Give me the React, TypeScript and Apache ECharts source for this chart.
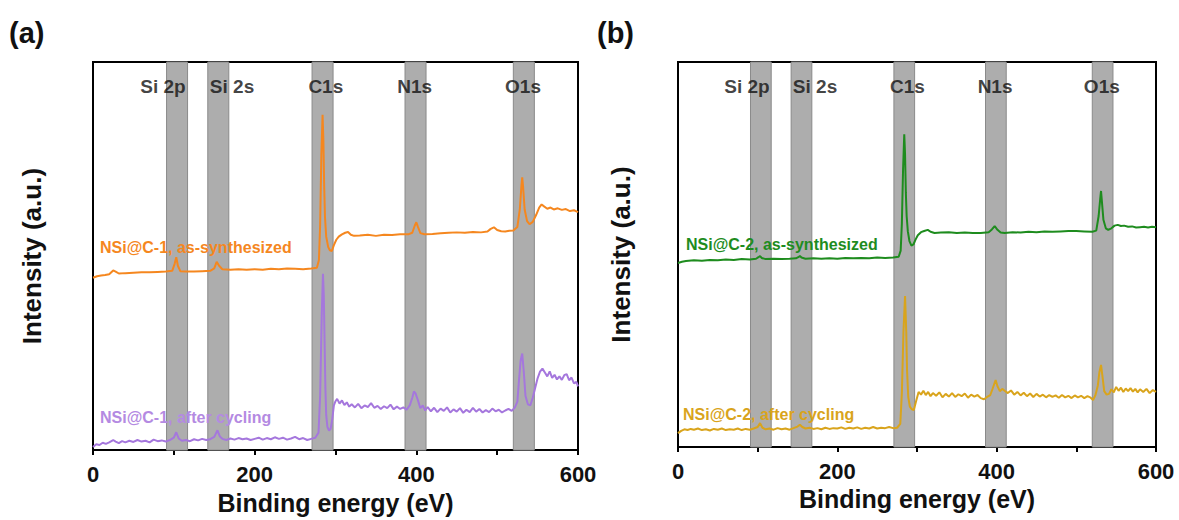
import React, { useEffect, useRef } from "react";
import * as echarts from "echarts";

// Band regions (eV) and labels
const bandRanges: [number, number][] = [
  [91, 117],
  [142, 168],
  [271, 297],
  [386, 412],
  [520, 546],
];
const bandNames = ["Si 2p", "Si 2s", "C1s", "N1s", "O1s"];
const bandLabelX = [86.6, 172, 288, 398, 532];
const bandLabelY = 93.6;

const xTicks = [0, 200, 400, 600];

// Panel (a) orange: NSi@C-1, as-synthesized
const c1Synth: [number, number][] = [
  [0, 44.4], [5, 44.8], [10, 45.0], [15, 45.1], [20, 45.3], [25, 46.3], [28, 46.0], [32, 45.5], [40, 45.6], [50, 45.7],
  [60, 45.8], [70, 45.8], [80, 45.9], [90, 46.0], [98, 46.2], [101, 48.0], [103, 49.7], [105, 47.5], [108, 46.1], [115, 46.0],
  [125, 46.0], [135, 46.1], [145, 46.2], [150, 46.8], [153, 48.5], [156, 47.5], [160, 46.6], [170, 46.5], [180, 46.6], [190, 46.5],
  [200, 46.6], [210, 46.5], [220, 46.7], [230, 46.6], [240, 46.8], [250, 46.7], [260, 46.6], [270, 46.8], [277, 47.0], [279.5, 49],
  [281, 58], [282.5, 76], [284, 86.4], [285, 80], [286, 68], [287, 60], [288.5, 55], [291, 52.3], [293, 51.5], [295.5, 51.3],
  [298, 52.8], [301, 54.2], [304, 55.0], [308, 55.6], [312, 56.0], [315.5, 56.2], [319, 55.5], [323, 55.2], [330, 55.3], [340, 55.5],
  [350, 55.2], [360, 55.5], [370, 55.4], [380, 55.6], [390, 55.6], [395, 56.0], [398, 57.8], [400, 58.7], [402, 57.5], [405, 55.9],
  [410, 55.6], [420, 55.7], [430, 55.9], [440, 56.0], [450, 56.1], [460, 56.0], [470, 56.2], [480, 56.1], [488, 56.3], [492, 57.0],
  [496, 57.4], [500, 56.7], [505, 56.4], [510, 56.3], [515, 56.5], [520, 56.6], [525, 57.5], [528, 62], [530, 68], [531, 70.3],
  [532, 68], [534, 62], [537, 59], [540, 58.2], [544, 58.8], [548, 60.5], [552, 62.5], [555, 63.3], [558, 62.8], [562, 62.2],
  [566, 62.5], [570, 62.0], [575, 62.3], [580, 61.9], [585, 62.1], [590, 61.6], [595, 61.8], [600, 61.3],
];

// Panel (a) purple: NSi@C-1, after cycling
const c1Cycled: [number, number][] = [
  [0, 0.8], [4, 1.5], [8, 1.3], [12, 1.9], [16, 1.6], [20, 2.0], [25, 2.6], [28, 2.2], [32, 1.8], [36, 2.3],
  [40, 2.0], [45, 2.4], [50, 2.1], [55, 2.6], [60, 2.2], [65, 2.4], [70, 2.0], [75, 2.7], [80, 2.3], [85, 2.5],
  [90, 2.2], [95, 2.6], [100, 3.2], [103, 4.6], [106, 3.0], [110, 2.4], [115, 2.6], [120, 2.3], [125, 2.8], [130, 2.5],
  [135, 2.9], [140, 2.6], [145, 2.8], [150, 3.4], [154, 5.1], [157, 3.5], [160, 2.9], [165, 2.6], [170, 3.0], [175, 2.7],
  [180, 3.1], [185, 2.8], [190, 3.0], [195, 2.6], [200, 2.9], [205, 3.2], [210, 2.7], [215, 3.1], [220, 2.8], [225, 3.3],
  [230, 2.9], [235, 3.2], [240, 2.7], [245, 3.0], [250, 3.4], [255, 2.8], [260, 3.1], [265, 2.6], [270, 2.9], [275, 3.2],
  [279, 4.5], [281, 14], [283, 35], [284.5, 45.4], [285.5, 40], [286.5, 28], [287.5, 16], [288.5, 9], [290, 6], [292, 5.0],
  [294, 5.5], [296, 8], [298, 11.5], [300, 12.6], [302, 13.2], [305, 12.0], [308, 12.8], [311, 11.6], [314, 12.3], [317, 11.2],
  [320, 11.8], [324, 11.0], [328, 11.9], [332, 10.8], [336, 11.5], [340, 11.1], [344, 12.1], [348, 10.9], [352, 11.4], [356, 10.6],
  [360, 11.3], [364, 10.8], [368, 11.7], [372, 10.5], [376, 11.2], [380, 10.6], [384, 11.0], [388, 10.4], [392, 11.6], [395, 13.5],
  [397, 15.1], [399, 14.6], [402, 12.8], [405, 10.8], [408, 11.5], [411, 10.2], [414, 11.1], [418, 10.0], [422, 10.9], [426, 9.8],
  [430, 10.7], [434, 10.1], [438, 11.0], [442, 9.7], [446, 10.5], [450, 9.9], [454, 10.8], [458, 9.6], [462, 10.4], [466, 9.8],
  [470, 10.9], [474, 9.9], [478, 10.6], [482, 9.7], [486, 10.3], [490, 9.8], [494, 10.7], [498, 10.0], [502, 10.4], [506, 9.7],
  [510, 10.2], [514, 10.6], [518, 10.1], [522, 11.0], [525, 12.5], [527, 18], [529, 23], [531, 24.9], [533, 20], [535, 14],
  [538, 11.8], [541, 11.5], [544, 13.5], [547, 16], [550, 18.5], [553, 20.2], [556, 21.0], [559, 20.0], [562, 19.0], [565, 20.3],
  [568, 18.6], [571, 19.4], [574, 18.2], [577, 19.0], [580, 18.1], [583, 19.3], [586, 19.6], [589, 18.0], [592, 18.7], [595, 17.2],
  [598, 17.6], [600, 16.4],
];

// Panel (b) green: NSi@C-2, as-synthesized
const c2Synth: [number, number][] = [
  [0, 47.8], [5, 48.1], [10, 48.3], [20, 48.5], [30, 48.4], [40, 48.6], [50, 48.5], [60, 48.7], [70, 48.6], [80, 48.8],
  [90, 48.7], [98, 48.9], [101, 49.3], [103, 49.6], [105, 49.1], [110, 48.8], [120, 48.9], [130, 48.8], [140, 48.9], [148, 49.0],
  [151, 49.3], [153, 49.6], [155, 49.2], [160, 48.9], [170, 49.0], [180, 48.9], [190, 49.0], [200, 48.9], [210, 49.1], [220, 49.0],
  [230, 49.1], [240, 49.0], [250, 49.2], [260, 49.1], [270, 49.2], [277, 49.4], [279.5, 51], [281, 58], [282.5, 72], [284, 81.2],
  [285, 76], [286, 66], [287, 60], [288.5, 56], [290.5, 53.5], [293, 52.3], [295.5, 52.6], [298, 53.8], [301, 55.0], [305, 55.8],
  [309, 56.1], [313.5, 56.4], [317, 55.9], [322, 55.6], [330, 55.7], [340, 55.8], [350, 55.6], [360, 55.7], [370, 55.6], [380, 55.6],
  [390, 55.8], [394, 56.5], [397.5, 57.4], [401, 56.4], [405, 55.7], [410, 55.6], [420, 55.8], [430, 55.7], [440, 55.9], [450, 55.8],
  [460, 56.0], [470, 55.9], [480, 56.0], [490, 56.1], [500, 56.1], [510, 56.0], [520, 55.9], [525, 56.2], [528, 60], [530, 64.5],
  [531, 66.5], [532, 64], [534, 59], [537, 56.8], [540, 56.4], [544, 56.8], [548, 57.5], [552, 57.7], [556, 57.4], [560, 57.5],
  [565, 57.2], [570, 57.3], [575, 57.0], [580, 57.1], [585, 57.2], [590, 57.0], [595, 57.2], [600, 57.1],
];

// Panel (b) gold: NSi@C-2, after cycling
const c2Cycled: [number, number][] = [
  [0, 3.6], [4, 4.2], [8, 4.6], [12, 4.4], [16, 4.7], [20, 4.5], [25, 4.8], [30, 4.4], [35, 4.6], [40, 4.3],
  [45, 4.7], [50, 4.5], [55, 4.8], [60, 4.4], [65, 4.6], [70, 4.5], [75, 4.8], [80, 4.4], [85, 4.7], [90, 4.5],
  [95, 4.8], [100, 5.2], [103, 6.2], [106, 5.0], [110, 4.6], [115, 4.8], [120, 4.5], [125, 4.9], [130, 4.6], [135, 4.8],
  [140, 4.5], [145, 4.9], [150, 5.3], [153, 5.8], [156, 5.2], [160, 4.8], [165, 5.0], [170, 4.7], [175, 4.9], [180, 4.6],
  [185, 5.0], [190, 4.7], [195, 4.9], [200, 4.8], [205, 5.1], [210, 4.7], [215, 5.0], [220, 4.8], [225, 5.1], [230, 4.7],
  [235, 5.0], [240, 4.8], [245, 5.2], [250, 4.8], [255, 5.0], [260, 4.9], [265, 5.2], [270, 4.9], [275, 5.0], [279, 6.0],
  [281, 14], [283, 30], [285, 39.2], [286.5, 30], [287.5, 20], [289, 13], [291, 10.5], [293.5, 9.8], [296, 9.6], [299, 12],
  [302, 14.3], [305, 13.6], [308, 14.6], [311, 13.5], [314, 14.3], [317, 13.2], [320, 14.0], [324, 13.3], [328, 14.2], [332, 12.9],
  [336, 13.8], [340, 13.1], [344, 14.0], [348, 13.0], [352, 13.7], [356, 13.2], [360, 13.9], [364, 12.8], [368, 13.6], [372, 13.1],
  [376, 13.5], [380, 12.7], [384, 12.4], [388, 13.0], [392, 13.5], [395, 15.2], [398.7, 17.4], [401, 15.8], [404, 14.5], [407, 15.1],
  [410, 14.6], [414, 14.0], [418, 14.7], [422, 13.6], [426, 14.3], [430, 13.4], [434, 14.1], [438, 13.2], [442, 13.9], [446, 13.0],
  [450, 13.8], [454, 13.1], [458, 13.6], [462, 12.9], [466, 13.5], [470, 13.0], [474, 13.4], [478, 12.8], [482, 13.5], [486, 12.9],
  [490, 13.3], [494, 12.7], [498, 13.4], [502, 12.9], [506, 13.3], [510, 12.7], [514, 13.2], [518, 12.8], [521, 12.2], [524, 13.5],
  [527, 16], [529, 19.5], [531, 21.3], [533, 18], [535, 14.5], [538, 13.6], [541, 13.8], [544, 15.0], [547, 14.2], [550, 15.6],
  [553, 14.6], [556, 15.4], [559, 14.3], [562, 15.2], [565, 14.5], [568, 15.3], [571, 14.4], [574, 15.1], [577, 14.2], [580, 15.0],
  [584, 14.3], [588, 15.1], [592, 14.0], [596, 14.8], [600, 14.3],
];

const COLORS = {
  orange: "#f5871f",
  purple: "#a577dd",
  purpleText: "#b48ae2",
  green: "#1e8c1e",
  gold: "#d9a41c",
  band: "#adadad",
  bandEdge: "#8a8a8a",
};

const FONT = "'Liberation Sans', Arial, Helvetica, sans-serif";

export default function App() {
  const ref = useRef<HTMLDivElement>(null);

  useEffect(() => {
    document.body.style.margin = "0";
    if (!ref.current) return;
    const chart = echarts.init(ref.current, undefined, { renderer: "svg" });

    const grids = [
      { left: 93, top: 62, width: 485, height: 390 },
      { left: 678, top: 62, width: 478, height: 385 },
    ];

    const xAxes = grids.map((_, i) => ({
      type: "value",
      gridIndex: i,
      min: 0,
      max: 600,
      interval: 200,
      name: "Binding energy (eV)",
      nameLocation: "middle",
      nameGap: 36,
      nameTextStyle: { fontFamily: FONT, fontWeight: "bold", fontSize: 25, color: "#111" },
      axisLine: { show: true, lineStyle: { color: "#000", width: 2 } },
      axisTick: { show: true, length: 5, lineStyle: { color: "#000", width: 2 } },
      minorTick: { show: true, splitNumber: 2, length: 5, lineStyle: { color: "#000", width: 2 } },
      axisLabel: {
        fontFamily: FONT,
        fontWeight: "bold",
        fontSize: 22,
        color: "#111",
        margin: 13,
        formatter: (v: number) => (xTicks.includes(v) ? String(v) : ""),
      },
      splitLine: { show: false },
    }));

    const yAxes = grids.map((_, i) => ({
      type: "value",
      gridIndex: i,
      min: 0,
      max: 100,
      name: "Intensity (a.u.)",
      nameLocation: "middle",
      nameGap: i === 0 ? 48 : 44,
      nameTextStyle: { fontFamily: FONT, fontWeight: "bold", fontSize: 26, color: "#111" },
      axisLine: { show: true, lineStyle: { color: "#000", width: 2 } },
      axisTick: { show: false },
      axisLabel: { show: false },
      splitLine: { show: false },
    }));

    const bandSeries = (i: number) => ({
      type: "line",
      xAxisIndex: i,
      yAxisIndex: i,
      data: [],
      silent: true,
      z: 1,
      markArea: {
        silent: true,
        itemStyle: { color: COLORS.band, borderColor: COLORS.bandEdge, borderWidth: 1 },
        data: bandRanges.map(([a, b]) => [{ xAxis: a }, { xAxis: b }]),
      },
    });

    const labelSeries = (i: number) => ({
      type: "scatter",
      xAxisIndex: i,
      yAxisIndex: i,
      silent: true,
      z: 5,
      symbolSize: 2,
      itemStyle: { color: "rgba(0,0,0,0)" },
      label: {
        show: true,
        position: "inside",
        formatter: (p: any) => p.data[2],
        fontFamily: FONT,
        fontWeight: "bold",
        fontSize: 19,
        color: "#111",
      },
      data: bandNames.map((n, k) => [bandLabelX[k], bandLabelY, n]),
    });

    const lineSeries = (i: number, name: string, data: [number, number][], color: string) => ({
      type: "line",
      name,
      xAxisIndex: i,
      yAxisIndex: i,
      data,
      showSymbol: false,
      symbol: "none",
      z: 3,
      lineStyle: { color, width: 2 },
    });

    const sampleText = (x: number, y: number, text: string, color: string) => ({
      type: "text",
      x,
      y,
      z: 10,
      style: {
        text,
        fill: color,
        font: `bold 16px ${FONT}`,
        textVerticalAlign: "middle",
        verticalAlign: "middle",
      },
    });

    chart.setOption({
      animation: false,
      backgroundColor: "#fff",
      grid: grids.map((g) => ({
        ...g,
        show: true,
        borderColor: "#000",
        borderWidth: 2,
        backgroundColor: "transparent",
        containLabel: false,
      })),
      xAxis: xAxes,
      yAxis: yAxes,
      series: [
        bandSeries(0),
        bandSeries(1),
        labelSeries(0),
        labelSeries(1),
        lineSeries(0, "NSi@C-1, as-synthesized", c1Synth, COLORS.orange),
        lineSeries(0, "NSi@C-1, after cycling", c1Cycled, COLORS.purple),
        lineSeries(1, "NSi@C-2, as-synthesized", c2Synth, COLORS.green),
        lineSeries(1, "NSi@C-2, after cycling", c2Cycled, COLORS.gold),
      ],
      graphic: [
        {
          type: "text",
          x: 9,
          y: 33,
          style: { text: "(a)", fill: "#111", font: `bold 29px ${FONT}`, verticalAlign: "middle", textVerticalAlign: "middle" },
        },
        {
          type: "text",
          x: 597,
          y: 33,
          style: { text: "(b)", fill: "#111", font: `bold 29px ${FONT}`, verticalAlign: "middle", textVerticalAlign: "middle" },
        },
        sampleText(100, 247, "NSi@C-1, as-synthesized", COLORS.orange),
        sampleText(100, 417, "NSi@C-1, after cycling", COLORS.purpleText),
        sampleText(686, 244, "NSi@C-2, as-synthesized", COLORS.green),
        sampleText(683, 414, "NSi@C-2, after cycling", COLORS.gold),
      ],
    });

    return () => chart.dispose();
  }, []);

  return <div ref={ref} style={{ width: 1179, height: 520 }} />;
}
